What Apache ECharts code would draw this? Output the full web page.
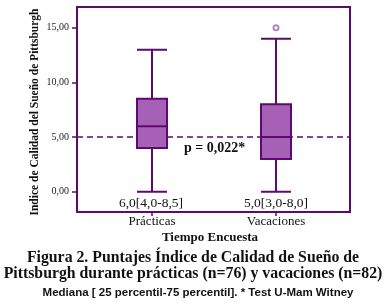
<!DOCTYPE html>
<html>
<head>
<meta charset="utf-8">
<script src="https://cdn.jsdelivr.net/npm/echarts@6/dist/echarts.min.js"></script>
<style>
  html, body { margin: 0; padding: 0; background: #fff; }
  #chart { width: 388px; height: 307px; }
</style>
</head>
<body>
<div id="chart"></div>
<script>
// datos
var categorias = ['Prácticas', 'Vacaciones']
// [min, Q1, mediana, Q3, max]
var cajas = [
  [0, 4, 6, 8.5, 13],
  [0, 3, 5, 8, 14]
]
var atipicos = [[1, 15]]
var lineaRef = 5
var yTicks = [0, 5, 10, 15]
var pTexto = 'p = 0,022*'

var morado = '#5c0a6e'
var relleno = '#a660b6'
var fuente = '"Liberation Serif", "DejaVu Serif", serif'

// escala vertical comun: -1.85 .. 16.9 sobre 205 px
var yMin = -1.85, yMax = 16.9, arriba = 7, alto = 205
var pxU = alto / (yMax - yMin)

function coma(v) { return v.toFixed(1).replace('.', ',') }

var myChart = echarts.init(document.getElementById('chart'))
myChart.setOption({
  animation: false,
  grid: [
    // marco
    { left: 77, top: arriba, width: 273, height: alto, show: true, borderColor: morado, borderWidth: 2, backgroundColor: '#fff' },
    // datos
    { left: 90, top: arriba, width: 248, height: alto },
    // eje y con marcas (0..15)
    { left: 77, top: arriba + (yMax - yTicks[3]) * pxU, width: 273, height: (yTicks[3] - yTicks[0]) * pxU }
  ],
  xAxis: [
    { gridIndex: 0, type: 'value', min: 0, max: 1, show: false },
    {
      gridIndex: 1, type: 'category', data: categorias,
      axisLine: { show: false, onZero: false },
      axisTick: { show: true, alignWithLabel: true, length: 4, lineStyle: { color: morado, width: 1.5 } },
      axisLabel: { color: '#111', fontFamily: fuente, fontSize: 13, margin: 3 },
      splitLine: { show: false }
    },
    { gridIndex: 2, type: 'value', min: 0, max: 1, show: false }
  ],
  yAxis: [
    { gridIndex: 0, type: 'value', min: yMin, max: yMax, show: false },
    { gridIndex: 1, type: 'value', min: yMin, max: yMax, show: false },
    {
      gridIndex: 2, type: 'value', min: yTicks[0], max: yTicks[3], interval: 5,
      axisLine: { show: false },
      axisTick: { show: true, length: 5, lineStyle: { color: morado, width: 1.5 } },
      axisLabel: { color: '#222', fontFamily: fuente, fontSize: 10, margin: 8,
        formatter: function (v) { return v.toFixed(2).replace('.', ',') } },
      splitLine: { show: false }
    }
  ],
  series: [
    {
      type: 'line', xAxisIndex: 0, yAxisIndex: 0,
      data: [[0, lineaRef], [1, lineaRef]],
      symbol: 'none', silent: true, z: 1,
      lineStyle: { color: morado, width: 1.5, type: [6, 4] }
    },
    {
      type: 'boxplot', xAxisIndex: 1, yAxisIndex: 1,
      data: cajas, boxWidth: [30, 30], z: 3,
      itemStyle: { color: relleno, borderColor: morado, borderWidth: 2 }
    },
    {
      type: 'scatter', xAxisIndex: 1, yAxisIndex: 1,
      data: atipicos, symbol: 'emptyCircle', symbolSize: 5, z: 4,
      itemStyle: { color: '#a865b8', borderColor: '#a865b8', borderWidth: 1.2 }
    }
  ],
  graphic: [
    { type: 'text', x: 35, y: 112, rotation: Math.PI / 2, style: { text: 'Indice de Calidad del Sueño de Pittsburgh', font: 'bold 11.5px ' + fuente, fill: '#111', align: 'center', verticalAlign: 'middle' } },
    { type: 'text', x: 184, y: 148, style: { text: pTexto, font: 'bold 14px ' + fuente, fill: '#111', verticalAlign: 'middle' } },
    { type: 'text', x: 151, y: 203, style: { text: coma(cajas[0][2]) + '[' + coma(cajas[0][1]) + '-' + coma(cajas[0][3]) + ']', font: '13.5px ' + fuente, fill: '#111', align: 'center', verticalAlign: 'middle' } },
    { type: 'text', x: 276, y: 203, style: { text: coma(cajas[1][2]) + '[' + coma(cajas[1][1]) + '-' + coma(cajas[1][3]) + ']', font: '13.5px ' + fuente, fill: '#111', align: 'center', verticalAlign: 'middle' } },
    { type: 'text', x: 210, y: 238, style: { text: 'Tiempo Encuesta', font: 'bold 13px ' + fuente, fill: '#111', align: 'center', verticalAlign: 'middle' } },
    { type: 'text', x: 193, y: 258, style: { text: 'Figura 2. Puntajes Índice de Calidad de Sueño de', font: 'bold 15.8px ' + fuente, fill: '#111', align: 'center', verticalAlign: 'middle' } },
    { type: 'text', x: 193, y: 274, style: { text: 'Pittsburgh durante prácticas (n=76) y vacaciones (n=82)', font: 'bold 15.8px ' + fuente, fill: '#111', align: 'center', verticalAlign: 'middle' } },
    { type: 'text', x: 198, y: 293, style: { text: 'Mediana [ 25 percentil-75 percentil]. * Test U-Mam Witney', font: 'bold 11.5px "Liberation Sans", Arial, sans-serif', fill: '#111', align: 'center', verticalAlign: 'middle' } }
  ]
})
</script>
</body>
</html>
